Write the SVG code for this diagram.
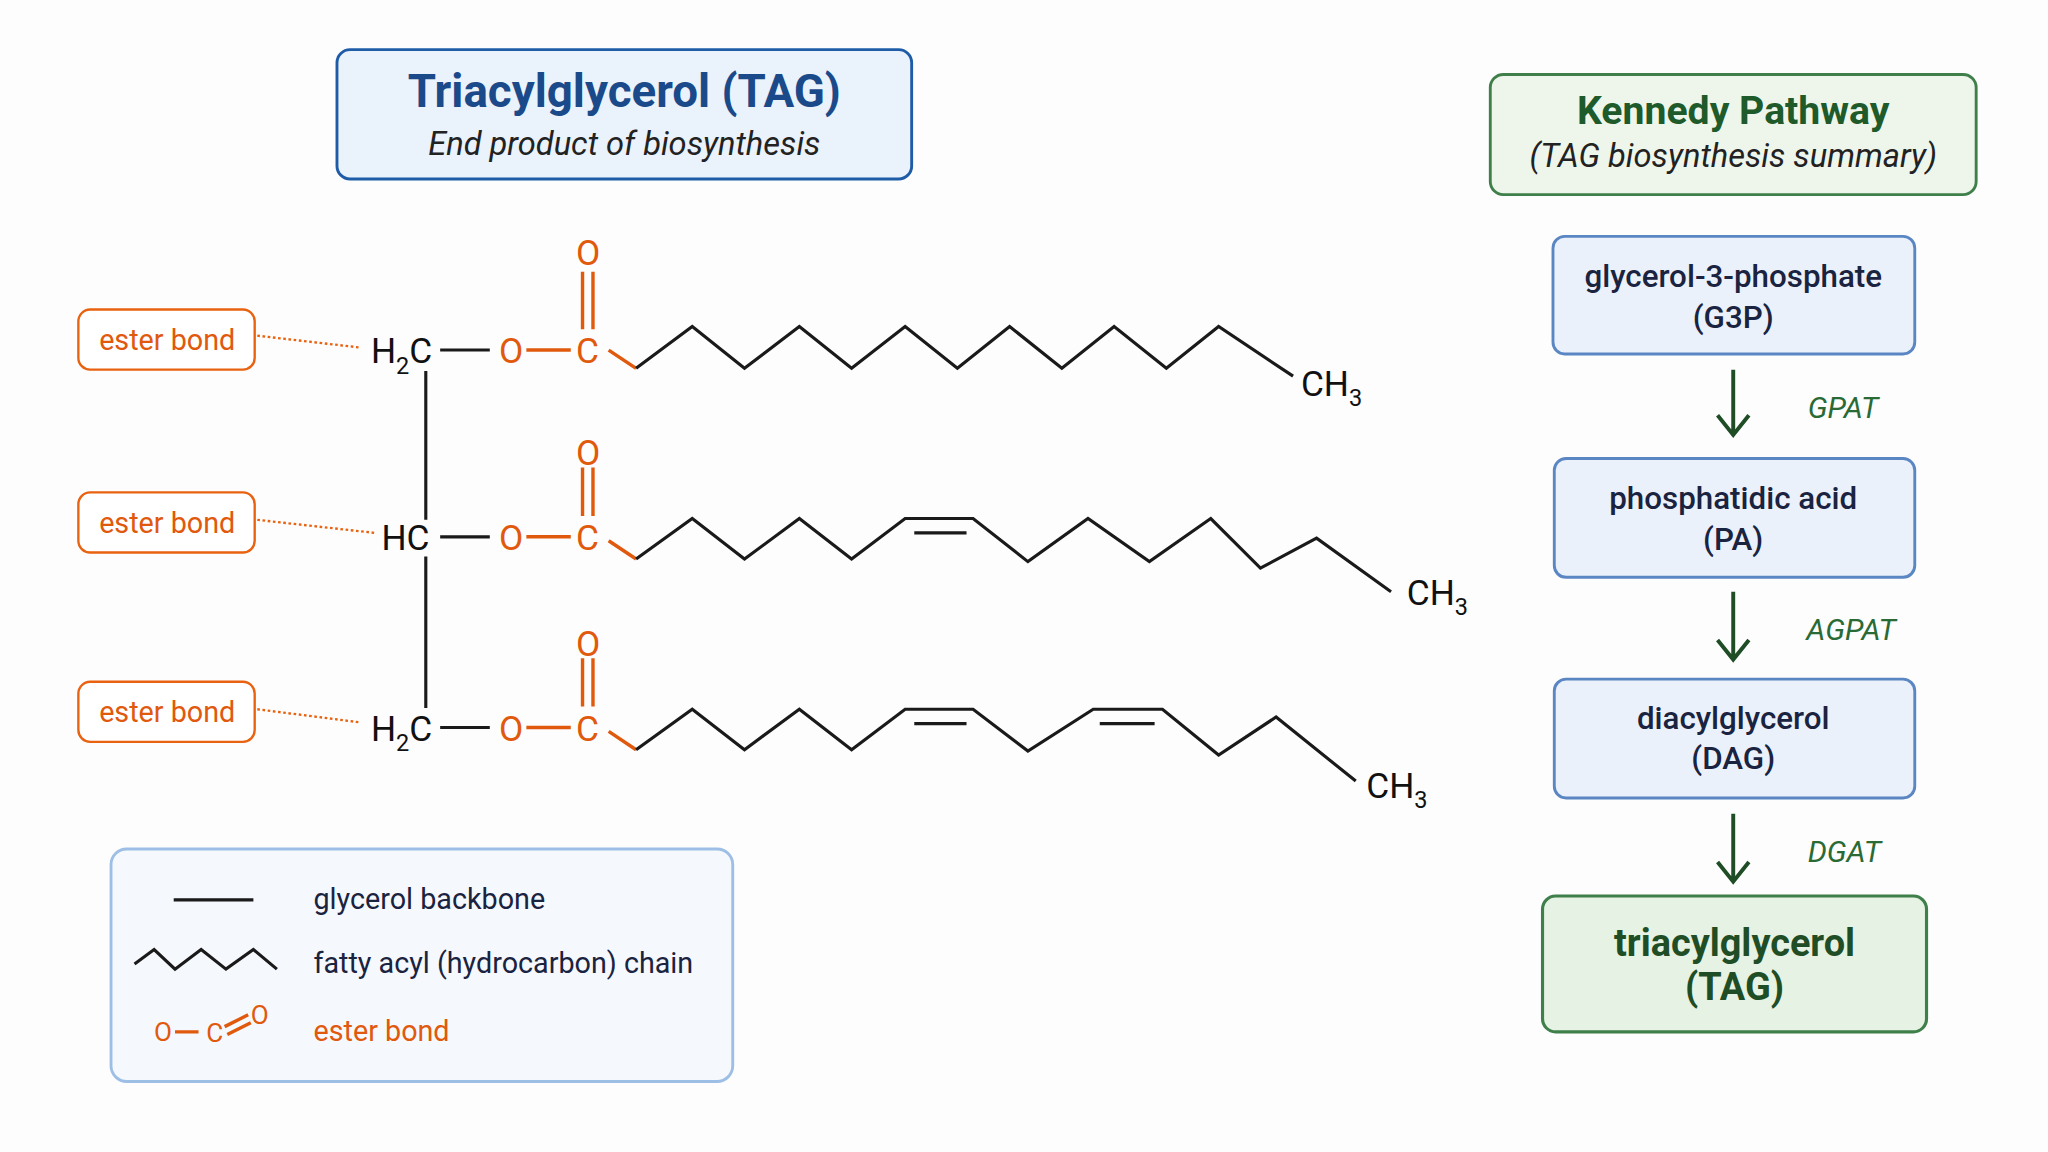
<svg xmlns="http://www.w3.org/2000/svg" width="2048" height="1152" viewBox="0 0 2048 1152">
<style>
text{font-family:Roboto,"Liberation Sans",sans-serif}
.ob{fill:#fff;stroke:#e8620f;stroke-width:1.8}
.ot{fill:#e0590c;font-size:22px;text-anchor:middle}
.dot{stroke:#e8620f;stroke-width:1.8;stroke-dasharray:2 2;fill:none}
.bk{stroke:#1a1a1a;stroke-width:2.4;fill:none;stroke-linejoin:miter}
.or{stroke:#e0590c;stroke-width:2.6;fill:none}
.at{font-size:27px;fill:#111}
.ao{font-size:27px;fill:#e0590c}
.pn{fill:#eaf1fb;stroke:#5b86c4;stroke-width:2.2}
.pt{font-size:24px;fill:#1a2340;text-anchor:middle;font-weight:500}
.en{font-size:23px;fill:#2a6a35;font-style:italic}
.arr{stroke:#1e4d26;stroke-width:3;fill:none}
.lt{font-size:22px;fill:#1a2340}
</style>
<rect width="2048" height="1152" fill="#fdfdfd"/>
<g transform="scale(1.30612)">
<g id="title">
<rect x="258" y="38" width="440" height="99" rx="10" fill="#eaf2fb" stroke="#1f5ca8" stroke-width="2.2"/>
<text x="478" y="82" font-size="35" font-weight="bold" fill="#1b4a8a" text-anchor="middle">Triacylglycerol (TAG)</text>
<text x="478" y="119" font-size="25" font-style="italic" fill="#222" text-anchor="middle">End product of biosynthesis</text>
</g>
<g id="kennedy">
<rect x="1141" y="57" width="372" height="92" rx="10" fill="#eef6ec" stroke="#3f7f4a" stroke-width="2.2"/>
<text x="1327" y="95" font-size="30" font-weight="bold" fill="#1e5a2a" text-anchor="middle">Kennedy Pathway</text>
<text x="1327" y="128" font-size="25" font-style="italic" fill="#222" text-anchor="middle">(TAG biosynthesis summary)</text>
</g>
<g id="g3p"><rect class="pn" x="1189" y="181" width="277" height="90" rx="9"/>
<text class="pt" x="1327" y="220">glycerol-3-phosphate</text><text class="pt" x="1327" y="251">(G3P)</text></g>
<g id="pa"><rect class="pn" x="1190" y="351" width="276" height="91" rx="9"/>
<text class="pt" x="1327" y="390">phosphatidic acid</text><text class="pt" x="1327" y="421">(PA)</text></g>
<g id="dag"><rect class="pn" x="1190" y="520" width="276" height="91" rx="9"/>
<text class="pt" x="1327" y="558">diacylglycerol</text><text class="pt" x="1327" y="589">(DAG)</text></g>
<g id="tag"><rect x="1181" y="686" width="294" height="104" rx="10" fill="#e6f2e3" stroke="#3f7f4a" stroke-width="2.4"/>
<text x="1328" y="732" font-size="29" font-weight="bold" fill="#1e4d26" text-anchor="middle">triacylglycerol</text>
<text x="1328" y="766" font-size="29" font-weight="bold" fill="#1e4d26" text-anchor="middle">(TAG)</text></g>
<g id="connectors">
<path class="arr" d="M1327 283V332M1315 318L1327 333L1339 318"/>
<path class="arr" d="M1327 453V504M1315 490L1327 505L1339 490"/>
<path class="arr" d="M1327 623V674M1315 660L1327 675L1339 660"/>
<text class="en" x="1384" y="320">GPAT</text>
<text class="en" x="1383" y="490">AGPAT</text>
<text class="en" x="1384" y="660">DGAT</text>
<path class="dot" d="M197 257L275 266M197 398L287 408M197 543L275 553"/>
</g>
<g id="ester1"><rect class="ob" x="60" y="237" width="135" height="46" rx="9"/><text class="ot" x="128" y="268">ester bond</text></g>
<g id="ester2"><rect class="ob" x="60" y="377" width="135" height="46" rx="9"/><text class="ot" x="128" y="408">ester bond</text></g>
<g id="ester3"><rect class="ob" x="60" y="522" width="135" height="46" rx="9"/><text class="ot" x="128" y="553">ester bond</text></g>
<g id="molecule">
<path class="bk" d="M326 284V398M326 426V542"/>
<text class="at" x="284" y="278">H<tspan font-size="18" dy="8">2</tspan><tspan dy="-8">C</tspan></text>
<text class="at" x="292" y="421">HC</text>
<text class="at" x="284" y="567">H<tspan font-size="18" dy="8">2</tspan><tspan dy="-8">C</tspan></text>
<path class="bk" d="M337 268H375M337 411H375M337 557H375"/>
<g>
<text class="ao" x="382" y="278">O</text><text class="ao" x="441" y="278">C</text><text class="ao" x="441" y="203">O</text>
<text class="ao" x="382" y="421">O</text><text class="ao" x="441" y="421">C</text><text class="ao" x="441" y="356">O</text>
<text class="ao" x="382" y="567">O</text><text class="ao" x="441" y="567">C</text><text class="ao" x="441" y="502">O</text>
<path class="or" d="M403 268H437M403 411H437M403 557H437M446 208V252M454 208V252M446 358V395M454 358V395M446 504V541M454 504V541M466 268L487 282M466 414L487 428M466 560L487 574"/>
</g>
<path class="bk" d="M487 282L530 250L570 282L612 250L652 282L693 250L733 282L773 250L813 282L853 250L893 282L933 250L990 288"/>
<path class="bk" d="M487 428L530 397L570 428L612 397L652 428L693 397L745 397L787 430L833 397L880 430L927 397L965 435L1008 412L1065 453M700 408H740"/>
<path class="bk" d="M487 574L530 543L570 574L612 543L652 574L693 543L745 543L787 575L837 543L890 543L933 578L977 549L1038 598M700 554H740M842 554H884"/>
<text class="at" x="996" y="303">CH<tspan font-size="18" dy="8">3</tspan></text>
<text class="at" x="1077" y="463">CH<tspan font-size="18" dy="8">3</tspan></text>
<text class="at" x="1046" y="611">CH<tspan font-size="18" dy="8">3</tspan></text>
</g>
<g id="legend">
<rect x="85" y="650" width="476" height="178" rx="12" fill="#f5f8fd" stroke="#9dbfe6" stroke-width="2.2"/>
<path class="bk" d="M133 689H194"/>
<path class="bk" d="M103 738L118 727L134 742L154 727L173 742L194 727L212 742"/>
<text x="118" y="797" font-size="20" fill="#e0590c">O</text>
<path class="or" d="M134 790H152M172 786L190 777M174 792L192 783"/>
<text x="158" y="798" font-size="20" fill="#e0590c">C</text>
<text x="192" y="784" font-size="20" fill="#e0590c">O</text>
<text class="lt" x="240" y="696">glycerol backbone</text>
<text class="lt" x="240" y="745">fatty acyl (hydrocarbon) chain</text>
<text class="lt" x="240" y="797" style="fill:#e0590c">ester bond</text>
</g>
</g>
</svg>
